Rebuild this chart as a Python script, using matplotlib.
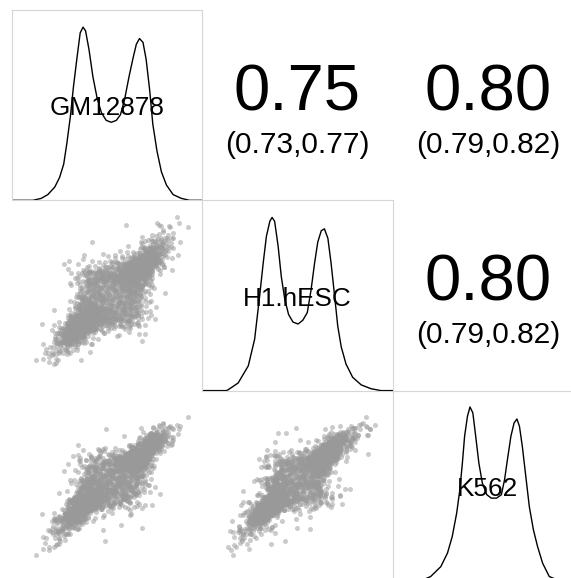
import numpy as np
import matplotlib.pyplot as plt
from math import erf

plt.rcParams['font.family'] = ['Liberation Sans', 'DejaVu Sans']

variables = ['GM12878', 'H1.hESC', 'K562']

# density curves (x in data units, height as fraction of panel)
gm_x = [-3.00, -2.34, -2.08, -1.87, -1.65, -1.50, -1.37, -1.27, -1.16, -1.06, -0.95, -0.85,
        -0.76, -0.68, -0.57, -0.45, -0.32, -0.18, -0.03, 0.13, 0.29, 0.42, 0.55, 0.69,
        0.82, 0.92, 1.02, 1.13, 1.23, 1.34, 1.44, 1.57, 1.71, 1.87, 2.08, 2.34, 2.60, 3.00]
gm_y = [0.00, 0.00, 0.01, 0.03, 0.07, 0.12, 0.19, 0.30, 0.44, 0.60, 0.75, 0.88,
        0.91, 0.89, 0.79, 0.65, 0.54, 0.46, 0.42, 0.41, 0.42, 0.45, 0.53, 0.65,
        0.75, 0.82, 0.85, 0.83, 0.74, 0.58, 0.40, 0.26, 0.15, 0.08, 0.03, 0.01, 0.00, 0.00]

h1_x = [-3.00, -2.24, -2.18, -1.87, -1.55, -1.35, -1.19, -1.08, -0.98, -0.87, -0.80, -0.72,
        -0.61, -0.51, -0.40, -0.28, -0.14, 0.02, 0.17, 0.31, 0.43, 0.54, 0.64, 0.75,
        0.85, 0.96, 1.06, 1.17, 1.27, 1.38, 1.53, 1.74, 2.01, 2.32, 2.63, 3.00]
h1_y = [0.00, 0.00, 0.005, 0.04, 0.13, 0.27, 0.50, 0.67, 0.81, 0.89, 0.91, 0.89,
        0.76, 0.60, 0.48, 0.40, 0.36, 0.35, 0.37, 0.41, 0.53, 0.67, 0.78, 0.84,
        0.85, 0.80, 0.67, 0.50, 0.34, 0.23, 0.14, 0.07, 0.03, 0.01, 0.00, 0.00]

k5_x = [-3.00, -2.30, -2.05, -1.80, -1.48, -1.27, -1.12, -0.98, -0.88, -0.80, -0.73, -0.64,
        -0.56, -0.47, -0.38, -0.28, -0.17, -0.03, 0.11, 0.28, 0.43, 0.53, 0.62, 0.73,
        0.83, 0.92, 1.00, 1.09, 1.20, 1.31, 1.44, 1.57, 1.73, 1.94, 2.20, 2.50, 3.00]
k5_y = [0.00, 0.00, 0.005, 0.023, 0.075, 0.146, 0.233, 0.356, 0.479, 0.619, 0.760, 0.865,
        0.914, 0.883, 0.760, 0.619, 0.514, 0.453, 0.435, 0.435, 0.453, 0.532, 0.637, 0.760,
        0.830, 0.851, 0.812, 0.707, 0.549, 0.391, 0.268, 0.181, 0.093, 0.023, 0.005, 0.00, 0.00]

dens_x = [gm_x, h1_x, k5_x]
dens_y = [gm_y, h1_y, k5_y]

# Pearson correlation and 95% CI printed in the upper panels
corr_pairs = [(0, 1), (0, 2), (1, 2)]
corr_values = ['0.75', '0.80', '0.80']
corr_ci = ['(0.73,0.77)', '(0.79,0.82)', '(0.79,0.82)']

# latent correlation used to lay out the scatter clouds (tight core + sparse halo)
latent_corr = [[1.00, 0.87, 0.91],
               [0.87, 1.00, 0.91],
               [0.91, 0.91, 1.00]]
loose_corr = [[1.00, 0.45, 0.50],
              [0.45, 1.00, 0.50],
              [0.50, 0.50, 1.00]]
loose_share = 0.12
n_points = 2200


def halton(n, base, skip=20):
    out = np.zeros(n)
    for i in range(n):
        f, r, k = 1.0, 0.0, i + 1 + skip
        while k > 0:
            f /= base
            r += f * (k % base)
            k //= base
        out[i] = r
    return out


# deterministic quasi-random normals (Box-Muller on Halton points)
u1, u2, u3, u4, u5 = (halton(n_points, b) for b in (2, 3, 5, 7, 11))
rad1 = np.sqrt(-2 * np.log(u1))
rad2 = np.sqrt(-2 * np.log(u3))
z = np.vstack([rad1 * np.cos(2 * np.pi * u2),
               rad1 * np.sin(2 * np.pi * u2),
               rad2 * np.cos(2 * np.pi * u4)])
z_core = np.linalg.cholesky(np.array(latent_corr)) @ z
z_loose = np.linalg.cholesky(np.array(loose_corr)) @ z
z = np.where(u5 < loose_share, z_loose, z_core)
ncdf = np.vectorize(lambda v: 0.5 * (1 + erf(v / np.sqrt(2))))
uu = ncdf(z)

# map onto the read marginal densities
data = []
for k in range(3):
    xs = np.array(dens_x[k])
    ys = np.array(dens_y[k])
    cdf = np.concatenate([[0], np.cumsum(0.5 * (ys[1:] + ys[:-1]) * np.diff(xs))])
    cdf = cdf / cdf[-1] + 1e-9 * np.arange(len(cdf))
    data.append(np.interp(uu[k], cdf, xs))

fig = plt.figure(figsize=(5.71, 5.78), dpi=100)
W, H = 571, 578
size = 190.3
lefts = [12, 202.3, 392.6]
tops = [10, 200.3, 390.6]

for i in range(3):
    for j in range(3):
        ax = fig.add_axes([lefts[j] / W, (H - tops[i] - size) / H, size / W, size / H])
        ax.set_xticks([])
        ax.set_yticks([])
        if i == j:
            ax.plot(dens_x[i], dens_y[i], color='black', lw=1.0,
                    solid_joinstyle='round')
            ax.set_xlim(-3, 3)
            ax.set_ylim(0, 1)
            for sp in ax.spines.values():
                sp.set_color('#d6d6d6')
                sp.set_linewidth(0.8)
            ax.text(0.5, 0.447, variables[i], transform=ax.transAxes,
                    ha='center', va='baseline', fontsize=18.8)
        elif i > j:
            ax.scatter(data[j], data[i], s=13, c='#999999', alpha=0.5, linewidths=0)
            ax.set_xlim(-3, 3)
            ax.set_ylim(-3, 3)
            for sp in ax.spines.values():
                sp.set_visible(False)
        else:
            idx = corr_pairs.index((i, j))
            for sp in ax.spines.values():
                sp.set_visible(False)
            ax.text(0.5, 0.474, corr_values[idx], transform=ax.transAxes,
                    ha='center', va='baseline', fontsize=47)
            ax.text(0.5, 0.25, corr_ci[idx], transform=ax.transAxes,
                    ha='center', va='baseline', fontsize=21.5)
        ax.patch.set_alpha(0)

fig.savefig('out.png', dpi=100)
